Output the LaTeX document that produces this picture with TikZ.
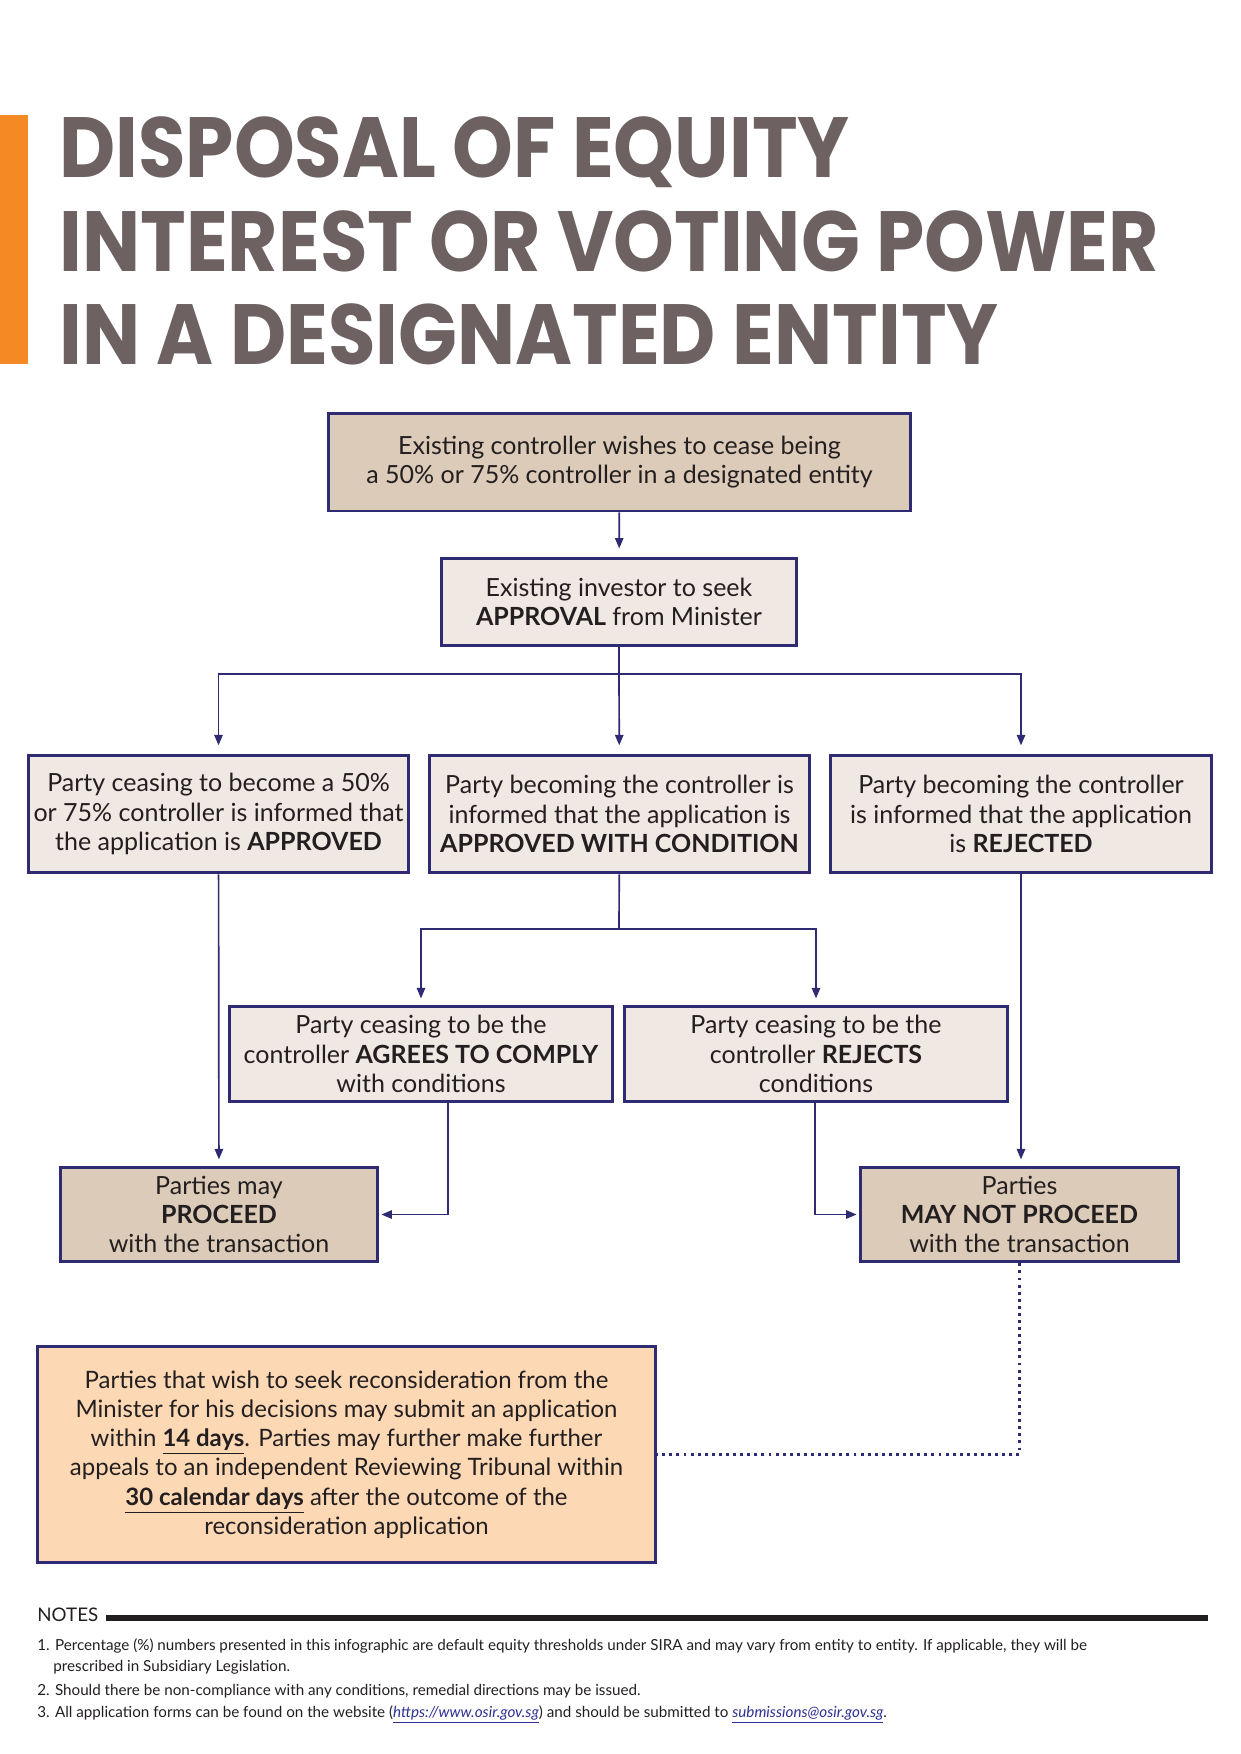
\documentclass[tikz,border=0pt]{standalone}
\usepackage{fontspec}
\setmainfont{Lato}
\newfontfamily\titlefont[FakeStretch=0.905]{Poppins}
\usetikzlibrary{arrows.meta}

\definecolor{navy}{HTML}{2E2B73}
\definecolor{ink}{HTML}{231F20}
\definecolor{tan}{HTML}{DBCBB8}
\definecolor{pale}{HTML}{F0E8E2}
\definecolor{peach}{HTML}{FDD8B4}
\definecolor{titlegray}{HTML}{6D6261}
\definecolor{barorange}{HTML}{F58A24}
\definecolor{linkblue}{HTML}{2E3192}

\tikzset{
  box/.style={draw=navy, line width=1.4pt, align=center, text=ink, inner sep=2pt,
    font=\fontsize{12}{14}\selectfont},
  tanbox/.style={box, fill=tan},
  palebox/.style={box, fill=pale},
  peachbox/.style={box, fill=peach, font=\fontsize{11.5}{14}\selectfont},
  link/.style={draw=navy, line width=0.8pt},
  conn/.style={link, -{Triangle[width=4pt,length=5pt]}, shorten >=4pt},
  titleline/.style={anchor=base west, inner sep=0pt, text=titlegray,
    font=\titlefont\bfseries\fontsize{41}{45}\selectfont},
  noteline/.style={anchor=base west, inner sep=0pt, text=ink,
    font=\fontsize{7.3}{10}\selectfont},
}

\begin{document}
\begin{tikzpicture}[x=0.48pt,y=-0.48pt]
\useasboundingbox (0,0) rectangle (1241,1754);

% title
\fill[barorange] (0,115) rectangle (28,364);
\node[titleline] (title1) at (59,177) {DISPOSAL OF EQUITY};
\node[titleline] (title2) at (59,271) {INTEREST OR VOTING POWER};
\node[titleline] (title3) at (59,364) {IN A DESIGNATED ENTITY};

% boxes
\node[tanbox, minimum width=279pt, minimum height=47pt] (wish) at (619.5,462)
  {Existing controller wishes to cease being\\a 50\% or 75\% controller in a designated entity};
\node[palebox, minimum width=170pt, minimum height=42pt] (seek) at (619,602)
  {Existing investor to seek\\\textbf{APPROVAL} from Minister};

\node[palebox, minimum width=182pt, minimum height=56.5pt] (approved) at (218.5,814)
  {Party ceasing to become a 50\%\\or 75\% controller is informed that\\the application is \textbf{APPROVED}};
\node[palebox, minimum width=182pt, minimum height=56.5pt] (withcond) at (619.5,814)
  {Party becoming the controller is\\informed that the application is\\\textbf{APPROVED WITH CONDITION}};
\node[palebox, minimum width=183pt, minimum height=56.5pt] (rejected) at (1021,814)
  {Party becoming the controller\\is informed that the application\\is \textbf{REJECTED}};

\node[palebox, minimum width=184pt, minimum height=46pt] (comply) at (421,1054)
  {Party ceasing to be the\\controller \textbf{AGREES TO COMPLY}\\with conditions};
\node[palebox, minimum width=184pt, minimum height=46pt] (rejects) at (816,1054)
  {Party ceasing to be the\\controller \textbf{REJECTS}\\conditions};

\node[tanbox, minimum width=152.5pt, minimum height=45.5pt] (proceed) at (219,1214.5)
  {Parties may\\\textbf{PROCEED}\\with the transaction};
\node[tanbox, minimum width=153pt, minimum height=45.5pt] (notproceed) at (1019.5,1214.5)
  {Parties\\\textbf{MAY NOT PROCEED}\\with the transaction};

\node[peachbox, minimum width=297pt, minimum height=104pt] (recon) at (346.5,1454.5)
  {Parties that wish to seek reconsideration from the\\
   Minister for his decisions may submit an application\\
   within \underline{\textbf{14 days}}. Parties may further make further\\
   appeals to an independent Reviewing Tribunal within\\
   \underline{\textbf{30 calendar days}} after the outcome of the\\
   reconsideration application};

% connectors
\coordinate (fork1) at (619,674);
\coordinate (fork2) at (619,929);
\draw[conn] (wish) -- (seek);
\draw[link] (seek) -- (fork1);
\draw[conn] (fork1) -| (approved);
\draw[conn] (fork1) -- (withcond);
\draw[conn] (fork1) -| (rejected);
\draw[link] (withcond) -- (fork2);
\draw[conn, shorten >=3pt] (fork2) -| (comply);
\draw[conn, shorten >=3pt] (fork2) -| (rejects);
\draw[conn, shorten >=3pt] (approved) -- (proceed);
\draw[conn, shorten >=3pt] (rejected.south) -- (rejected.south |- notproceed.north);
\draw[conn, shorten >=1pt] ([xshift=13pt]comply.south) |- (proceed);
\draw[conn, shorten >=1pt] ([xshift=-0.5pt]rejects.south) |- (notproceed);
\draw[navy, line width=1.4pt, dotted] (notproceed) |- (recon);

% notes
\node[anchor=base west, inner sep=0pt, text=ink, font=\fontsize{9}{11}\selectfont] (notes) at (37,1621) {NOTES};
\draw[ink, line width=2.9pt] (106,1618) -- (1208,1618);
\node[noteline] (note1) at (37,1650)
  {1. Percentage (\%) numbers presented in this infographic are default equity thresholds under SIRA and may vary from entity to entity. If applicable, they will be};
\node[noteline] (note1b) at (53,1671) {prescribed in Subsidiary Legislation.};
\node[noteline] (note2) at (37,1695)
  {2. Should there be non-compliance with any conditions, remedial directions may be issued.};
\node[noteline] (note3) at (37,1717)
  {3. All application forms can be found on the website (\textcolor{linkblue}{\itshape\underline{https://www.osir.gov.sg}}) and should be submitted to \textcolor{linkblue}{\itshape\underline{submissions@osir.gov.sg}}.};
\end{tikzpicture}
\end{document}
